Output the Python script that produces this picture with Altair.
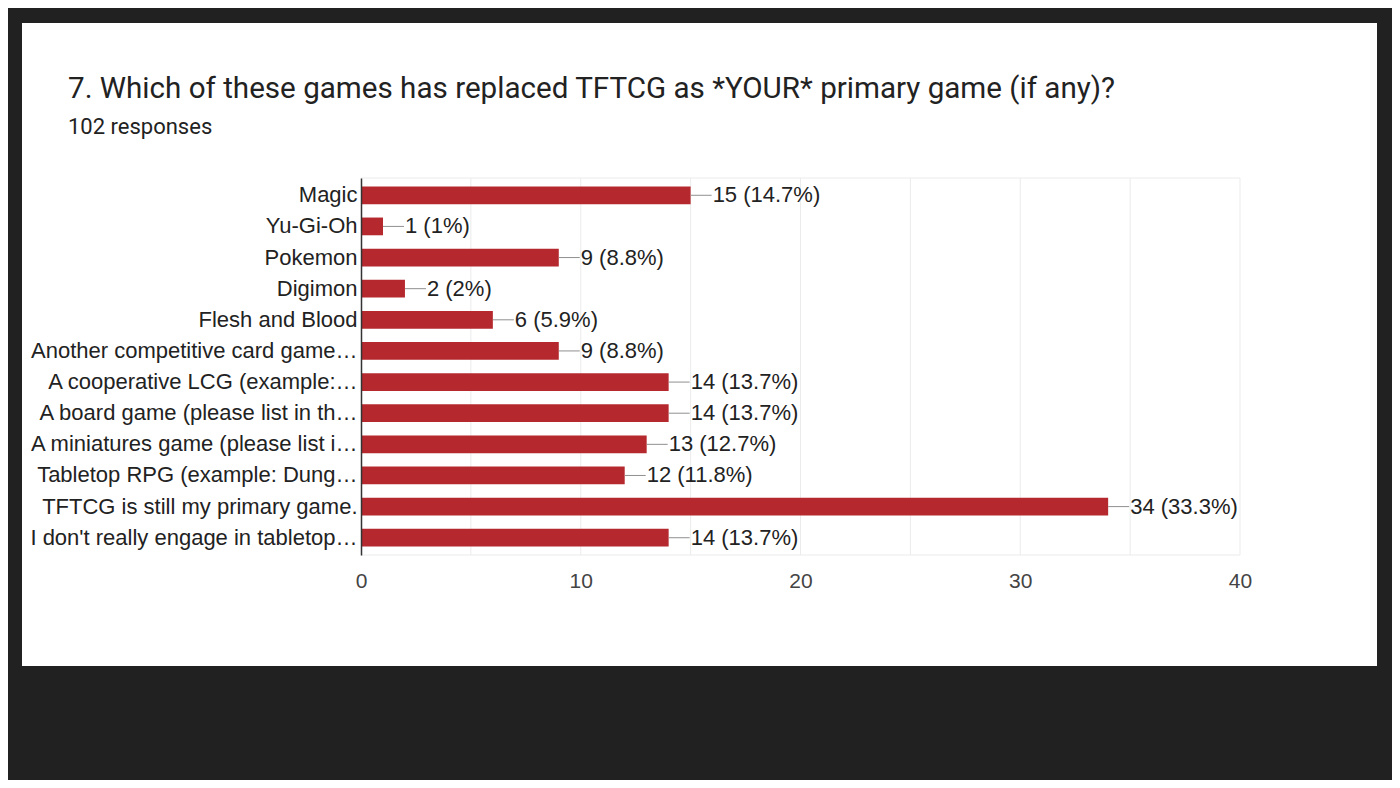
import altair as alt
import pandas as pd

# ---------------------------------------------------------------- palette
PAGE = "#212121"
CARD = "#ffffff"
BAR = "#b5282d"
INK = "#222222"
TICK_INK = "#444444"
GRID = "#ebebeb"
LEADER = "#8f8f8f"

# ---------------------------------------------------------------- data
TITLE = "7. Which of these games has replaced TFTCG as *YOUR* primary game (if any)?"
SUBTITLE = "102 responses"

GAMES = [
    "Magic",
    "Yu-Gi-Oh",
    "Pokemon",
    "Digimon",
    "Flesh and Blood",
    "Another competitive card game…",
    "A cooperative LCG (example:…",
    "A board game (please list in th…",
    "A miniatures game (please list i…",
    "Tabletop RPG (example: Dung…",
    "TFTCG is still my primary game.",
    "I don't really engage in tabletop…",
]
COUNTS = [15, 1, 9, 2, 6, 9, 14, 14, 13, 12, 34, 14]
PCTS = ["14.7%", "1%", "8.8%", "2%", "5.9%", "8.8%",
        "13.7%", "13.7%", "12.7%", "11.8%", "33.3%", "13.7%"]
X_TICKS = [0, 10, 20, 30, 40]
GRID_LINES = [5, 10, 15, 20, 25, 30, 35, 40]

df = pd.DataFrame({
    "game": GAMES,
    "count": COUNTS,
    "label": [f"{c} ({p})" for c, p in zip(COUNTS, PCTS)],
})

# ---------------------------------------------------------------- layout
# svg is 1384x772 so that, with the page's 8px margin, nothing overflows
W, H = 879, 377            # plot area
PAD = {"left": 353, "top": 170, "right": 152, "bottom": 225}

x_scale = alt.Scale(domain=[0, 40], nice=False)
y_scale = alt.Scale(paddingInner=0.43, paddingOuter=0.27)
y_plain = alt.Y("game:N", sort=GAMES, scale=y_scale)

# white card behind everything (decoration, in pixel space)
card = alt.Chart(alt.Data(values=[{}])).mark_rect(color=CARD).encode(
    x=alt.value(-339), x2=alt.value(1016), y=alt.value(-155), y2=alt.value(488))

heading = alt.Chart(alt.Data(values=[{"t": TITLE}])).mark_text(
    align="left", baseline="alphabetic", font="Roboto", fontSize=29.6, color=INK,
).encode(x=alt.value(-293), y=alt.value(-80), text="t:N")

subheading = alt.Chart(alt.Data(values=[{"t": SUBTITLE}])).mark_text(
    align="left", baseline="alphabetic", font="Roboto", fontSize=22, color=INK,
).encode(x=alt.value(-293), y=alt.value(-44), text="t:N")

grid = alt.Chart(pd.DataFrame({"v": GRID_LINES})).mark_rule(
    color=GRID, strokeWidth=1).encode(x=alt.X("v:Q", scale=x_scale))
frame_top = alt.Chart(alt.Data(values=[{}])).mark_rule(
    color=GRID, strokeWidth=1).encode(y=alt.value(0))
frame_bottom = alt.Chart(alt.Data(values=[{}])).mark_rule(
    color=GRID, strokeWidth=1).encode(y=alt.value(H))

base = alt.Chart(df)

bars = base.mark_bar(color=BAR).encode(
    x=alt.X("count:Q", scale=x_scale, axis=alt.Axis(
        title=None, values=X_TICKS, grid=False, domain=False, ticks=False,
        labelFont="Liberation Sans", labelFontSize=21, labelColor=TICK_INK,
        labelPadding=15, labelFlush=False, zindex=1)),
    y=alt.Y("game:N", sort=GAMES, scale=y_scale, axis=alt.Axis(
        title=None, labelFont="Liberation Sans", labelFontSize=22,
        labelColor=INK, labelPadding=4, labelLimit=400, ticks=False,
        domainColor="#333333", domainWidth=1.5, zindex=1)),
)

# thin leader from the bar end to its value label
leaders = base.mark_bar(color=LEADER, size=1, x2Offset=21).encode(
    x=alt.X("count:Q", scale=x_scale), x2="count", y=y_plain)

values = base.mark_text(
    align="left", baseline="middle", dx=22, font="Liberation Sans",
    fontSize=22, color=INK,
).encode(
    x=alt.X("count:Q", scale=x_scale),
    y=y_plain,
    text="label:N",
)

chart = alt.layer(
    card, heading, subheading, grid, frame_top, frame_bottom, bars, leaders, values
).properties(
    width=W, height=H, padding=PAD, background=PAGE,
    autosize=alt.AutoSizeParams(type="none"),
).configure_view(strokeOpacity=0)

chart.save("out.html", embed_options={"renderer": "svg", "actions": False})
